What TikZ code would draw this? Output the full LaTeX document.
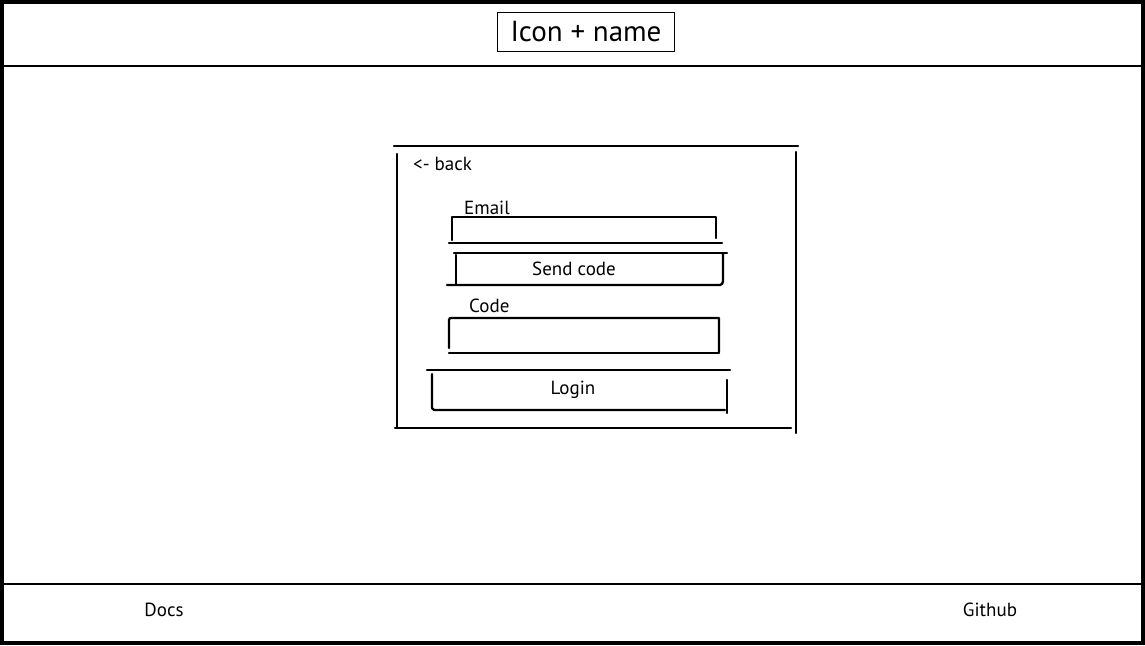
\documentclass[tikz,border=0pt]{standalone}
\usepackage{fontspec}
\setmainfont{PT Sans}
\begin{document}
\begin{tikzpicture}[x=1pt,y=-1pt,
  sk/.style={line width=2.3pt,line cap=round,line join=round},
  lbl/.style={inner sep=0pt,font=\fontsize{19}{22}\selectfont},
  frame/.style={line width=4pt},
  bar/.style={line width=2pt}]
\useasboundingbox (0,0) rectangle (1145,645);
\fill[white] (0,0) rectangle (1145,645);
% outer frame
\draw[frame] (2,2) rectangle (1143,643);
\draw[bar] (0,66) -- (1145,66);
\draw[bar] (0,584) -- (1145,584);
% header
\node[draw,line width=1.3pt,minimum width=177pt,minimum height=39pt,inner sep=0pt,
      font=\fontsize{29}{32}\selectfont] (title) at (586,32) {Icon + name};
% card
\draw[sk] (394,146) -- (798,146);
\draw[sk] (397,154) -- (397,428);
\draw[sk] (395,428) -- (791,428);
\draw[sk] (796,152) -- (796,433);
\node[lbl,anchor=west] (back) at (413,164) {<- back};
% email
\node[lbl,anchor=west] (emaillbl) at (464,208) {Email};
\draw[sk] (452,240) -- (452,217) -- (716,217) -- (716,238);
\draw[sk] (449,243) -- (722,243);
% send code
\draw[sk] (454,253) -- (727,253);
\draw[sk] (456,255) -- (456,285);
\draw[sk] (447,285) -- (720,285) to[out=0,in=-90] (723,281) -- (723,253);
\node[lbl] (send) at (574,269) {Send code};
% code
\node[lbl,anchor=west] (codelbl) at (469,306) {Code};
\draw[sk] (449,348) -- (449,320) -- (450,318) -- (719,318) -- (719,352);
\draw[sk] (449,353) -- (719,353);
% login
\draw[sk] (427,370) -- (730,370);
\draw[sk] (432,374) -- (432,408) -- (434,410) -- (725,410);
\draw[sk] (727,380) -- (727,413);
\node[lbl] (login) at (573,390) {Login};
% footer
\node[lbl] (docs) at (164,610) {Docs};
\node[lbl] (github) at (990,610) {Github};
\end{tikzpicture}
\end{document}
